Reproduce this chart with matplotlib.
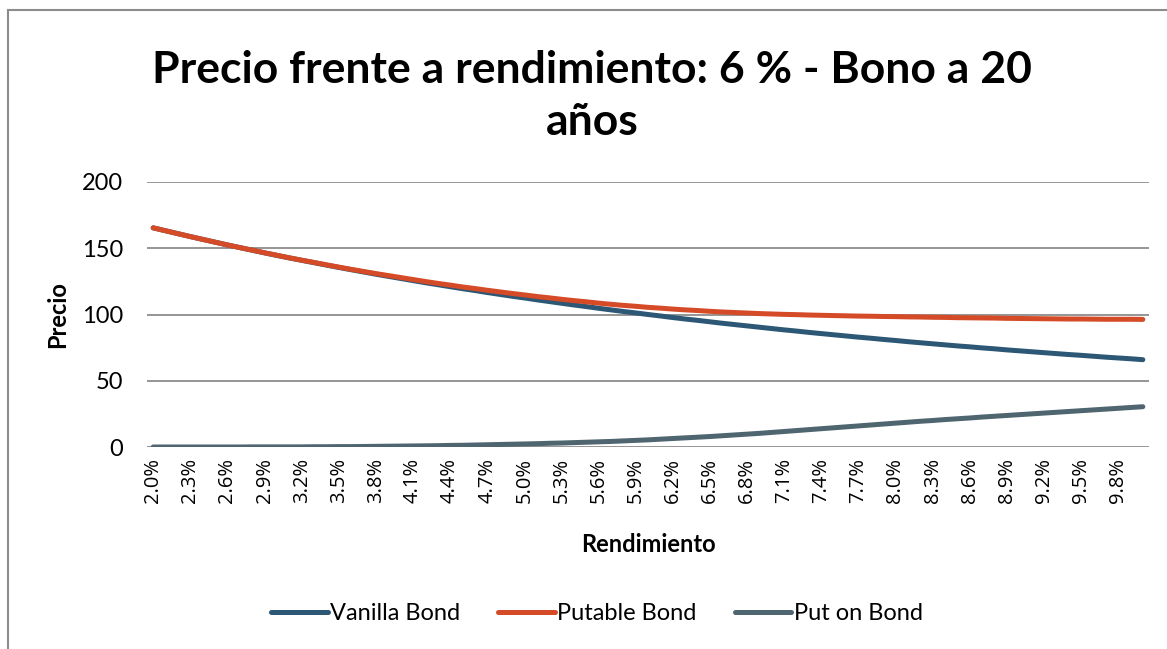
import matplotlib.pyplot as plt
from matplotlib.lines import Line2D

# Yields 2.0% .. 10.0% in 0.1% steps
yields = [f"{v / 10:.1f}%" for v in range(20, 101)]

vanilla = [
    165.4, 163.2, 161.0, 158.8, 156.7, 154.6, 152.5, 150.5, 148.5, 146.5,
    144.6, 142.7, 140.9, 139.1, 137.3, 135.5, 133.8, 132.1, 130.4, 128.8,
    127.2, 125.6, 124.0, 122.5, 121.0, 119.5, 118.1, 116.6, 115.2, 113.8,
    112.5, 111.1, 109.8, 108.5, 107.2, 106.0, 104.7, 103.5, 102.3, 101.2,
    100.0, 98.9, 97.7, 96.6, 95.6, 94.5, 93.4, 92.4, 91.4, 90.4,
    89.4, 88.4, 87.5, 86.5, 85.6, 84.7, 83.8, 82.9, 82.1, 81.2,
    80.4, 79.5, 78.7, 77.9, 77.1, 76.3, 75.6, 74.8, 74.1, 73.3,
    72.6, 71.9, 71.2, 70.5, 69.8, 69.2, 68.5, 67.8, 67.2, 66.6,
    65.9,
]

putable = [
    165.4, 163.2, 161.0, 158.8, 156.7, 154.6, 152.5, 150.5, 148.6, 146.6,
    144.7, 142.8, 141.0, 139.3, 137.5, 135.8, 134.1, 132.5, 130.9, 129.4,
    127.9, 126.4, 124.9, 123.5, 122.2, 120.8, 119.6, 118.3, 117.1, 115.9,
    114.8, 113.6, 112.6, 111.5, 110.5, 109.6, 108.6, 107.7, 106.9, 106.2,
    105.4, 104.8, 104.1, 103.5, 103.0, 102.4, 101.9, 101.5, 101.1, 100.7,
    100.4, 100.1, 99.9, 99.6, 99.4, 99.2, 99.0, 98.8, 98.7, 98.5,
    98.4, 98.2, 98.1, 97.9, 97.8, 97.6, 97.5, 97.4, 97.3, 97.1,
    97.0, 96.9, 96.8, 96.7, 96.6, 96.6, 96.5, 96.4, 96.4, 96.4,
    96.3,
]

put_on_bond = [
    0.0, 0.0, 0.0, 0.0, 0.0, 0.0, 0.0, 0.0, 0.1, 0.1,
    0.1, 0.1, 0.1, 0.2, 0.2, 0.3, 0.3, 0.4, 0.5, 0.6,
    0.7, 0.8, 0.9, 1.0, 1.2, 1.3, 1.5, 1.7, 1.9, 2.1,
    2.3, 2.5, 2.8, 3.0, 3.3, 3.6, 3.9, 4.2, 4.6, 5.0,
    5.4, 5.9, 6.4, 6.9, 7.4, 7.9, 8.5, 9.1, 9.7, 10.3,
    11.0, 11.7, 12.4, 13.1, 13.8, 14.5, 15.2, 15.9, 16.6, 17.3,
    18.0, 18.7, 19.4, 20.0, 20.7, 21.3, 21.9, 22.6, 23.2, 23.8,
    24.4, 25.0, 25.6, 26.2, 26.8, 27.4, 28.0, 28.6, 29.2, 29.8,
    30.4,
]

series = [
    ("Vanilla Bond", vanilla, "#2C5775"),
    ("Putable Bond", putable, "#D54B27"),
    ("Put on Bond", put_on_bond, "#4F6570"),
]

W, H = 1167, 649
fig = plt.figure(figsize=(W / 100, H / 100), dpi=100)
ax = fig.add_axes([147 / W, 1 - 447 / H, (1149 - 147) / W, (447 - 182) / H])

x = list(range(len(yields)))
for name, vals, color in series:
    ax.plot(x, vals, color=color, lw=3.6, solid_capstyle="round", label=name)

ax.set_xlim(-0.5, len(yields) - 0.5)
ax.set_ylim(0, 200)
ax.set_yticks([0, 50, 100, 150, 200])
ax.set_xticks(x[::3])
ax.set_xticklabels(yields[::3], rotation=90, fontsize=14.5, family="Open Sans")
for lbl in ax.get_yticklabels():
    lbl.set_fontsize(17)
    lbl.set_family("Lato")
ax.tick_params(axis="both", length=0)
ax.tick_params(axis="y", pad=17)
ax.tick_params(axis="x", pad=8)
ax.grid(axis="y", color="#8C8C8C", lw=1.3)
ax.set_axisbelow(True)
for s in ax.spines.values():
    s.set_visible(False)

fig.text(58 / W, 1 - 315 / H, "Precio", ha="center", va="center", rotation=90,
         fontsize=17, fontweight="bold", family="Lato")
fig.text(648 / W, 1 - 545 / H, "Rendimiento", ha="center", va="center",
         fontsize=17, fontweight="bold", family="Lato")

fig.text(592 / W, 1 - 70 / H, "Precio frente a rendimiento: 6 % - Bono a 20",
         ha="center", va="center", fontsize=32, fontweight="bold", family="Lato")
fig.text(592 / W, 1 - 122 / H, "años", ha="center", va="center",
         fontsize=32, fontweight="bold", family="Lato")

handles = [Line2D([], [], color=c, lw=3.6, solid_capstyle="round") for _, _, c in series]
fig.legend(handles, [n for n, _, _ in series], loc="center", ncol=3,
           bbox_to_anchor=(597 / W, 1 - 614 / H), frameon=False,
           prop={"family": "Lato", "size": 17}, handlelength=2.4,
           handletextpad=0.1, columnspacing=1.6)

# chart frame (top and left edges)
fig.add_artist(Line2D([8 / W, 1], [1 - 10 / H, 1 - 10 / H], color="#8C8C8C", lw=1.5))
fig.add_artist(Line2D([8 / W, 8 / W], [0, 1 - 10 / H], color="#8C8C8C", lw=1.5))

fig.savefig("out.png", dpi=100)
